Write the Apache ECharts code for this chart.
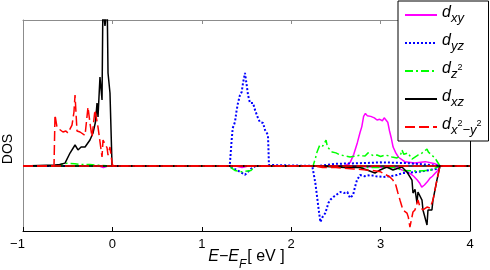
<!DOCTYPE html>
<html><head><meta charset="utf-8">
<script src="https://cdn.jsdelivr.net/npm/echarts@6/dist/echarts.min.js"></script>
<style>html,body{margin:0;padding:0;background:#fff}#c{width:490px;height:270px}</style>
</head><body><div id="c"></div>
<script>
// ---- data (energy E-E_F in eV, DOS in arbitrary units; up = positive, down = negative) ----
const xTicks = [-1, 0, 1, 2, 3, 4];
const orbitals = ['dxy', 'dyz', 'dz2', 'dxz', 'dx2y2'];

const dxyUpE = [-1, 2.6, 2.66, 2.7, 2.74, 2.77, 2.79, 2.81, 2.83, 2.85, 2.87, 2.89, 2.91, 2.93, 2.96, 2.99, 3.02, 3.04, 3.06, 3.08, 3.1, 3.12, 3.14, 3.17, 3.2, 3.27, 3.38, 3.5, 3.61, 3.664, 4];
const dxyUpDOS = [0, 0, 0.25, 0.8, 1.6, 2.3, 2.7, 3.4, 3.6, 3.45, 3.55, 3.4, 3.5, 3.3, 3.15, 3.2, 3.1, 3.3, 3.4, 3.0, 2.4, 1.9, 1.3, 0.9, 0.6, 0.3, 0.2, 0.3, 0.15, 0, 0];
const dxyDownE = [-1, -0.15, -0.1, -0.05, 1.38, 1.45, 1.52, 2.5, 2.8, 3.1, 3.18, 3.25, 3.33, 3.37, 3.41, 3.44, 3.46, 3.49, 3.52, 3.55, 3.58, 3.61, 3.64, 3.664, 4];
const dxyDownDOS = [0, 0, -0.1, 0, 0, -0.1, 0, 0, -0.05, -0.1, -0.1, -0.3, -0.5, -0.7, -0.96, -1.2, -1.44, -1.3, -1.1, -0.85, -0.7, -0.5, -0.3, 0, 0];

const dyzUpE = [-1, 1.3, 1.315, 1.334, 1.346, 1.371, 1.39, 1.405, 1.427, 1.446, 1.461, 1.483, 1.502, 1.517, 1.539, 1.573, 1.595, 1.628, 1.65, 1.685, 1.707, 1.74, 1.745, 1.751, 1.76, 2.3, 2.5, 2.8, 3.0, 3.3, 3.5, 3.664, 4];
const dyzUpDOS = [0, 0, 0.2, 1.78, 2.6, 3.01, 3.84, 4.32, 4.86, 5.07, 5.68, 6.37, 5.55, 4.86, 4.32, 4.32, 3.84, 3.29, 3.01, 2.95, 2.47, 2.12, 1.3, 0.07, 0, 0, 0.15, 0.2, 0.25, 0.2, 0.1, 0, 0];
const dyzDownE = [-1, 1.3, 1.4, 1.483, 1.55, 1.6, 2.2, 2.236, 2.27, 2.304, 2.326, 2.35, 2.382, 2.416, 2.44, 2.472, 2.51, 2.55, 2.59, 2.628, 2.658, 2.692, 2.715, 2.736, 2.77, 2.82, 2.882, 2.95, 3.027, 3.1, 3.183, 3.25, 3.33, 3.407, 3.48, 3.552, 3.62, 3.664, 4];
const dyzDownDOS = [0, 0, -0.3, -0.6, -0.2, 0, 0, 0, -1.16, -2.81, -3.84, -3.5, -3.22, -2.53, -2.3, -2.12, -1.95, -1.78, -1.85, -1.78, -2.19, -1.99, -1.4, -0.96, -0.62, -0.7, -0.62, -0.7, -0.75, -0.7, -0.62, -0.48, -0.45, -0.41, -0.35, -0.27, -0.2, 0, 0];

const dz2UpE = [-1, -0.62, -0.55, -0.5, -0.42, -0.35, -0.25, -0.15, 0, 2.244, 2.27, 2.289, 2.32, 2.355, 2.39, 2.405, 2.423, 2.458, 2.5, 2.547, 2.6, 2.658, 2.72, 2.77, 2.8, 2.826, 2.86, 2.882, 2.92, 2.96, 3.0, 3.05, 3.09, 3.127, 3.183, 3.22, 3.239, 3.26, 3.272, 3.306, 3.351, 3.38, 3.418, 3.45, 3.474, 3.519, 3.535, 3.552, 3.608, 3.664, 4];
const dz2UpDOS = [0, 0, 0.15, 0.2, 0.15, 0.1, 0.1, 0.05, 0, 0, 0.5, 0.96, 1.44, 1.37, 1.78, 1.3, 1.23, 0.96, 0.9, 0.75, 0.7, 0.62, 0.68, 0.75, 0.7, 0.68, 0.9, 0.82, 0.7, 0.75, 0.65, 0.75, 0.7, 0.62, 0.55, 0.7, 1.1, 0.8, 0.68, 0.89, 0.48, 0.6, 0.75, 0.8, 0.96, 1.16, 0.95, 0.89, 0.55, 0, 0];
const dz2DownE = [-1, 1.3, 1.37, 1.45, 1.55, 1.6, 2.25, 2.5, 2.8, 3.15, 3.25, 3.4, 3.55, 3.664, 4];
const dz2DownDOS = [0, 0, -0.3, -0.4, -0.3, 0, 0, -0.05, -0.1, -0.1, -0.3, -0.35, -0.3, 0, 0];

const dxzUpE = [-1, -0.642, -0.59, -0.53, -0.474, -0.418, -0.385, -0.35, -0.306, -0.251, -0.217, -0.19, -0.172, -0.161, -0.139, -0.116, -0.105, -0.094, -0.083, -0.072, -0.06, -0.049, -0.027, -0.004, 0.005, 4];
const dxzUpDOS = [0, 0.07, 0.1, 0.2, 0.89, 1.44, 1.1, 1.3, 1.3, 1.78, 2.26, 3.0, 4.32, 3.36, 6.1, 4.52, 12, 10.2, 9.6, 10.2, 12, 6.37, 5.0, 0, 0, 0];
const dxzDownE = [-1, 2.3, 2.6, 2.769, 2.848, 2.937, 2.993, 3.071, 3.138, 3.239, 3.295, 3.351, 3.362, 3.385, 3.407, 3.418, 3.44, 3.463, 3.474, 3.496, 3.519, 3.53, 3.55, 3.574, 3.586, 3.63, 3.664, 4];
const dxzDownDOS = [0, 0, -0.1, -0.1, -0.27, -0.48, -0.27, -0.07, -0.27, -0.07, -0.41, -0.96, -1.85, -1.6, -2.53, -1.78, -1.9, -2.33, -3.01, -2.88, -4.04, -3.01, -2.9, -3.01, -2.33, -0.96, 0, 0];

const dx2y2UpE = [-1, -0.653, -0.642, -0.62, -0.59, -0.553, -0.52, -0.497, -0.452, -0.43, -0.418, -0.396, -0.362, -0.306, -0.273, -0.25, -0.228, -0.195, -0.161, -0.116, -0.105, -0.06, -0.049, -0.027, -0.004, 0.007, 4];
const dx2y2UpDOS = [0, 0, 3.5, 2.67, 2.5, 2.33, 2.4, 2.26, 2.8, 3.7, 4.86, 2.4, 2.33, 2.1, 4.04, 2.9, 1.99, 3.84, 2.67, 0.62, 1.78, 1.25, 0.75, 1.3, 0.2, 0, 0];
const dx2y2DownE = [-1, 2.25, 2.35, 2.5, 2.7, 2.9, 3.0, 3.104, 3.138, 3.17, 3.194, 3.22, 3.25, 3.295, 3.31, 3.328, 3.362, 3.384, 3.418, 3.441, 3.474, 3.519, 3.552, 3.586, 3.63, 3.664, 4];
const dx2y2DownDOS = [0, 0, -0.1, -0.1, -0.2, -0.3, -0.4, -0.75, -0.96, -1.3, -1.85, -2.4, -3.01, -3.22, -3.5, -4.18, -3.15, -3.01, -2.33, -2.81, -3.01, -2.81, -2.88, -2.33, -0.96, 0, 0];

// ---- styling ----
const FONT = 'Liberation Sans, Arial, Helvetica, sans-serif';
const styles = {
  dxy:   { color: '#ff00ff', type: 'solid', width: 1.5 },
  dyz:   { color: '#0000ff', type: [2, 2], width: 2 },
  dz2:   { color: '#00ff00', type: [8, 3, 2, 3], width: 1.5 },
  dxz:   { color: '#000000', type: 'solid', width: 1.5 },
  dx2y2: { color: '#ff0000', type: [10, 4], width: 1.5 }
};
const legendText = {
  dxy: '{d|d}{s|xy}',
  dyz: '{d|d}{s|yz}',
  dz2: '{d|d}{s|z}{p|2}',
  dxz: '{d|d}{s|xz}',
  dx2y2: '{d|d}{s|x}{p|2}{s|\u2212y}{p|2}'
};
const seriesData = {
  dxy: [[dxyUpE, dxyUpDOS], [dxyDownE, dxyDownDOS]],
  dyz: [[dyzUpE, dyzUpDOS], [dyzDownE, dyzDownDOS]],
  dz2: [[dz2UpE, dz2UpDOS], [dz2DownE, dz2DownDOS]],
  dxz: [[dxzUpE, dxzUpDOS], [dxzDownE, dxzDownDOS]],
  dx2y2: [[dx2y2UpE, dx2y2UpDOS], [dx2y2DownE, dx2y2DownDOS]]
};
const zip = (a, b) => a.map((v, i) => [v, b[i]]);

const series = [];
orbitals.forEach(name => {
  seriesData[name].forEach(([e, d]) => {
    series.push({
      name: name, type: 'line', data: zip(e, d), symbol: 'none', showSymbol: false,
      xAxisIndex: 0, yAxisIndex: 0, clip: true, animation: false,
      lineStyle: { color: styles[name].color, type: styles[name].type, width: styles[name].width },
      itemStyle: { color: styles[name].color }
    });
  });
});

const chart = echarts.init(document.getElementById('c'), null, { renderer: 'canvas' });
chart.setOption({
  backgroundColor: '#fff',
  animation: false,
  grid: { left: 23, right: 20, top: 20, bottom: 39, containLabel: false, outerBoundsMode: 'none' },
  xAxis: [
    { type: 'value', position: 'bottom', min: -1, max: 4, interval: 1,
      axisLine: { onZero: false, lineStyle: { color: '#000', width: 1 } },
      axisTick: { inside: true, length: 4, lineStyle: { color: '#000' } },
      splitLine: { show: false },
      axisLabel: { margin: 7, fontSize: 13, fontFamily: FONT, color: '#000',
        formatter: v => (v < 0 ? '{neg|\u2212' + Math.abs(v) + '}' : String(v)),
        rich: { neg: { fontSize: 13, fontFamily: FONT, color: '#000', padding: [0, 11, 0, 0] } } },
      name: '{i|E\u2212E}{s|F}{n|[ eV ]}', nameLocation: 'middle', nameGap: 21, nameMoveOverlap: false,
      nameTextStyle: { rich: {
        i: { fontSize: 16, fontStyle: 'italic', fontFamily: FONT, color: '#000', lineHeight: 16, padding: [0, 0, 7, 0] },
        s: { fontSize: 12, fontStyle: 'italic', fontFamily: FONT, color: '#000', lineHeight: 12, padding: [10, 1, 1, 0] },
        n: { fontSize: 16, fontFamily: FONT, color: '#000', lineHeight: 16, padding: [0, 0, 7, 0] }
      } }
    },
    { type: 'value', position: 'top', min: -1, max: 4, interval: 1,
      axisLine: { onZero: false, lineStyle: { color: '#8c8c8c', width: 1 } },
      axisTick: { inside: true, length: 4, lineStyle: { color: '#8c8c8c' } },
      splitLine: { show: false }, axisLabel: { show: false } }
  ],
  yAxis: [
    { type: 'value', position: 'left', min: -4.45, max: 10,
      axisLine: { show: true, onZero: false, lineStyle: { color: '#8c8c8c', width: 1 } },
      axisTick: { show: false }, axisLabel: { show: false }, splitLine: { show: false } },
    { type: 'value', position: 'right', min: -4.45, max: 10,
      axisLine: { show: true, onZero: false, lineStyle: { color: '#000', width: 1 } },
      axisTick: { show: false }, axisLabel: { show: false }, splitLine: { show: false } }
  ],
  legend: {
    data: orbitals, orient: 'vertical', left: 398, top: 1,
    itemWidth: 32, itemHeight: 14, itemGap: 4,
    padding: [2, 7, 2, 6],
    borderColor: '#000', borderWidth: 1, backgroundColor: '#fff',
    selectedMode: false,
    itemStyle: { opacity: 0 },
    formatter: n => legendText[n],
    textStyle: { rich: {
      d: { fontSize: 16, fontStyle: 'italic', fontFamily: FONT, color: '#000', lineHeight: 16, padding: [2, 0, 6, 0] },
      s: { fontSize: 13, fontStyle: 'italic', fontFamily: FONT, color: '#000', lineHeight: 13, padding: [9, 0, 2, 0] },
      p: { fontSize: 9, fontFamily: FONT, color: '#000', lineHeight: 9, padding: [4.5, 0, 10.5, 0] }
    } }
  },
  graphic: [
    { type: 'text', x: 8.5, y: 149, rotation: Math.PI / 2,
      style: { text: 'DOS', x: 0, y: 0, align: 'center', verticalAlign: 'middle', textAlign: 'center', textVerticalAlign: 'middle',
        fontSize: 14, fontFamily: FONT, fill: '#000' } }
  ],
  series: series
});
</script>
</body></html>
